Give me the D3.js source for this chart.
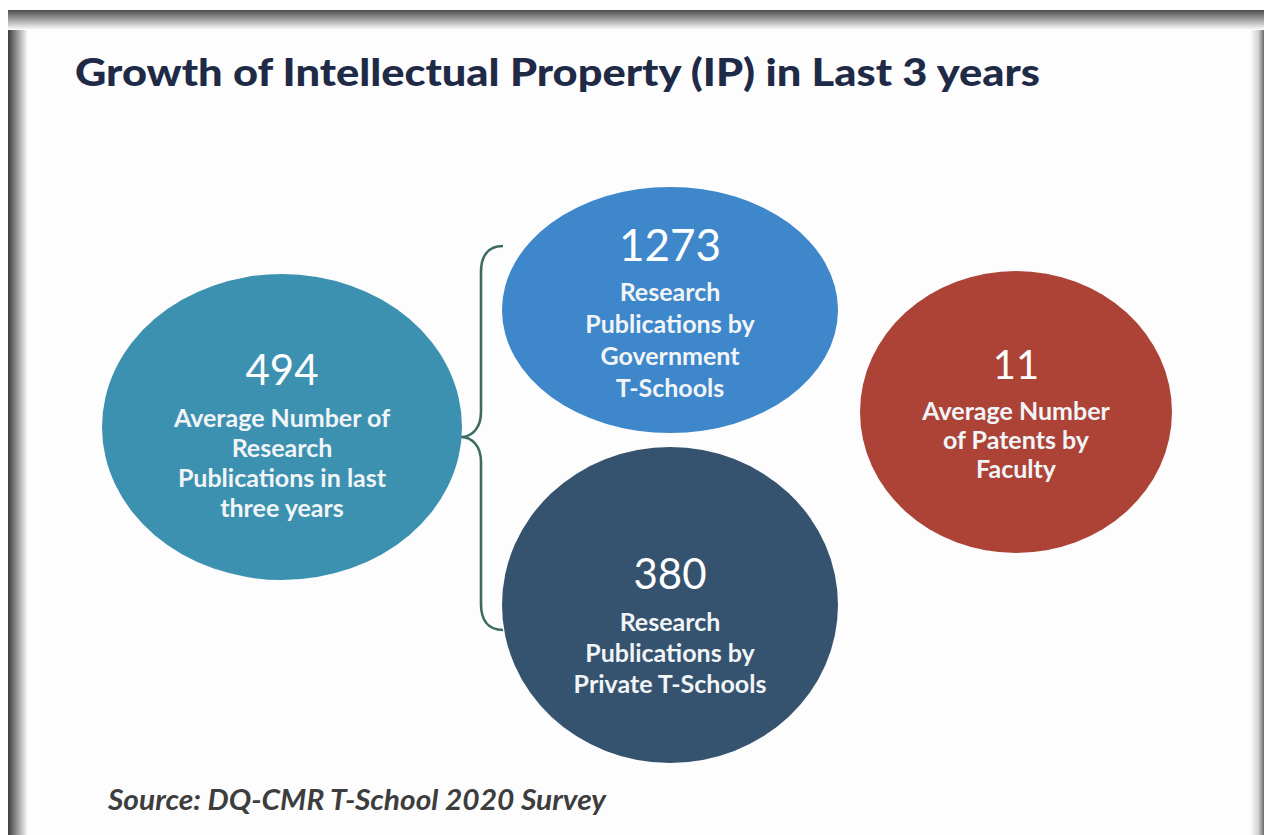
<!DOCTYPE html>
<html>
<head>
<meta charset="utf-8">
<script src="https://cdn.jsdelivr.net/npm/d3@7"></script>
<style>
  html, body { margin: 0; padding: 0; background: #ffffff; }
  svg { display: block; }
</style>
</head>
<body>
<svg id="chart" width="1266" height="835"></svg>
<script>
// ---- data ----
const metricKeys = ["avg", "gov", "priv", "patents"];
const metricValues = [494, 1273, 380, 11];
const metricLabels = [
  ["Average Number of", "Research", "Publications in last", "three years"],
  ["Research", "Publications by", "Government", "T-Schools"],
  ["Research", "Publications by", "Private T-Schools"],
  ["Average Number", "of Patents by", "Faculty"]
];
const titleText = "Growth of Intellectual Property (IP) in Last 3 years";
const sourceText = "Source: DQ-CMR T-School 2020 Survey";

// ---- layout (bubble geometry & colours) ----
const bubbleLayout = {
  avg:     { cx: 282,  cy: 427, rx: 180, ry: 153, fill: "#3d91b0", numY: 385, lineY: 427, lineGap: 30, numSize: 42 },
  gov:     { cx: 670,  cy: 310, rx: 168, ry: 123, fill: "#3e87cb", numY: 261, lineY: 301, lineGap: 32, numSize: 44 },
  priv:    { cx: 670,  cy: 605, rx: 168, ry: 158, fill: "#35536f", numY: 589, lineY: 631, lineGap: 31, numSize: 42 },
  patents: { cx: 1016, cy: 412, rx: 156, ry: 141, fill: "#ad4337", numY: 379, lineY: 420, lineGap: 29, numSize: 40 }
};

const W = 1266, H = 835;
const svg = d3.select("#chart");
const defs = svg.append("defs");

// frame shading gradients
function linGrad(id, x1, y1, x2, y2, stops) {
  const g = defs.append("linearGradient").attr("id", id)
    .attr("x1", x1).attr("y1", y1).attr("x2", x2).attr("y2", y2);
  stops.forEach(s => g.append("stop").attr("offset", s[0]).attr("stop-color", s[1]));
}
linGrad("gTop", 0, 0, 0, 1, [[0, "#4a4a4a"], [0.35, "#8a8a8a"], [1, "#ffffff"]]);
linGrad("gLeft", 0, 0, 1, 0, [[0, "#3c3c3c"], [0.4, "#8c8c8c"], [1, "#ffffff"]]);
linGrad("gRight", 0, 0, 1, 0, [[0, "#ffffff"], [0.6, "#d0d0d0"], [1, "#6a6a6a"]]);

// page frame
svg.append("rect").attr("x", 0).attr("y", 0).attr("width", W).attr("height", H).attr("fill", "#ffffff");
svg.append("rect").attr("x", 8).attr("y", 10).attr("width", 1256).attr("height", 825).attr("fill", "#fdfdfd");
svg.append("rect").attr("x", 8).attr("y", 10).attr("width", 20).attr("height", 825).attr("fill", "url(#gLeft)");
svg.append("rect").attr("x", 1250).attr("y", 10).attr("width", 14).attr("height", 825).attr("fill", "url(#gRight)");
svg.append("rect").attr("x", 8).attr("y", 10).attr("width", 1256).attr("height", 20).attr("fill", "url(#gTop)");

// title
svg.append("text")
  .attr("x", 75).attr("y", 86)
  .attr("font-family", "Lato, 'Open Sans', sans-serif")
  .attr("font-weight", 900)
  .attr("font-size", 38)
  .attr("fill", "#1f2a47")
  .attr("textLength", 965)
  .attr("lengthAdjust", "spacingAndGlyphs")
  .text(titleText);

// brace linking the average bubble to the two breakdown bubbles
const avgB = bubbleLayout.avg;
const braceX = 481, tipX = avgB.cx + avgB.rx - 1, tipY = 437;
const topY = 246, botY = 630, endX = 503;
const br = d3.path();
br.moveTo(endX, topY);
br.bezierCurveTo(braceX + 7, topY, braceX, topY + 10, braceX, topY + 26);
br.lineTo(braceX, tipY - 25);
br.bezierCurveTo(braceX, tipY - 9, braceX - 9, tipY, tipX, tipY);
br.bezierCurveTo(braceX - 9, tipY, braceX, tipY + 9, braceX, tipY + 25);
br.lineTo(braceX, botY - 26);
br.bezierCurveTo(braceX, botY - 10, braceX + 7, botY, endX, botY);
svg.append("path")
  .attr("d", br.toString())
  .attr("fill", "none")
  .attr("stroke", "#3d6b64")
  .attr("stroke-width", 2.6);

// bubbles
const data = metricKeys.map((k, i) => ({ key: k, value: metricValues[i], lines: metricLabels[i], geo: bubbleLayout[k] }));

const g = svg.selectAll("g.bubble").data(data).join("g").attr("class", "bubble");

g.append("ellipse")
  .attr("cx", d => d.geo.cx).attr("cy", d => d.geo.cy)
  .attr("rx", d => d.geo.rx).attr("ry", d => d.geo.ry)
  .attr("fill", d => d.geo.fill);

const fmt = d3.format("d");
g.append("text")
  .attr("x", d => d.geo.cx).attr("y", d => d.geo.numY)
  .attr("text-anchor", "middle")
  .attr("font-family", "Lato, 'Open Sans', sans-serif")
  .attr("font-weight", 400)
  .attr("font-size", d => d.geo.numSize)
  .attr("fill", "#ffffff")
  .text(d => fmt(d.value));

g.each(function(d) {
  d3.select(this).selectAll("text.lbl").data(d.lines).join("text")
    .attr("class", "lbl")
    .attr("x", d.geo.cx)
    .attr("y", (t, i) => d.geo.lineY + i * d.geo.lineGap)
    .attr("text-anchor", "middle")
    .attr("font-family", "Lato, 'Open Sans', sans-serif")
    .attr("font-weight", 700)
    .attr("font-size", 25)
    .attr("fill", "#f2f5f7")
    .text(t => t);
});

// source note
svg.append("text")
  .attr("x", 108).attr("y", 810)
  .attr("font-family", "Lato, 'Open Sans', sans-serif")
  .attr("font-style", "italic")
  .attr("font-weight", 700)
  .attr("font-size", 28)
  .attr("fill", "#3d3d3d")
  .attr("textLength", 498)
  .attr("lengthAdjust", "spacingAndGlyphs")
  .text(sourceText);
</script>
</body>
</html>
